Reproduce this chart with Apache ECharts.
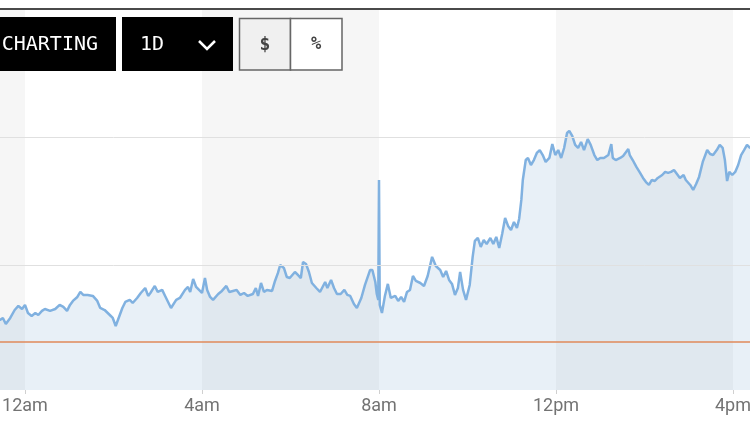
<!DOCTYPE html>
<html>
<head>
<meta charset="utf-8">
<script src="https://cdn.jsdelivr.net/npm/echarts@6/dist/echarts.min.js"></script>
<style>
html,body{margin:0;padding:0;background:#fff;overflow:hidden;width:750px;height:443px;position:relative;}
#chart{position:absolute;left:-152px;top:0;width:1062px;height:443px;}
</style>
</head>
<body>
<div id="chart"></div>
<script>
// minutes from 12am
const times = [
-37,-34,-30,-26,-20,-14,-9,-4,0,4,
9,14,18,23,27,34,41,47,52,57,
61,65,71,75,79,85,92,98,102,108,
115,119,123,126,132,136,142,146,152,157,
163,167,170,176,180,186,190,198,205,210,
217,221,224,228,232,240,244,247,251,255,
262,267,273,277,282,287,292,297,302,309,
313,316,320,324,328,335,339,343,346,351,
355,359,366,370,374,377,381,385,389,395,
400,407,410,415,419,423,428,433,437,441,
446,450,456,461,468,471,475,477,479,480,
481,484,488,492,496,502,506,510,514,518,
522,526,530,536,541,546,552,557,563,567,
571,575,579,583,587,590,594,598,600,603,
607,610,614,618,622,626,631,635,639,643,
647,651,655,659,663,667,670,673,675,679,
682,686,690,694,698,702,706,711,715,719,
723,727,731,735,738,742,746,750,754,758,
763,767,772,776,780,785,791,795,797,801,
807,811,818,820,824,829,834,838,842,846,
850,854,858,864,868,872,876,880,884,888,
893,896,902,906,910,914,919,925,929,933,
938,942,946,949,952,955,959,963,967,971,
975,979,983,987
];
const prices = [
105.86,105.70,105.86,105.39,105.86,106.48,106.80,106.56,106.88,106.25,
106.02,106.25,106.09,106.41,106.56,106.41,106.56,106.88,106.72,106.41,
106.88,107.19,107.50,107.89,107.66,107.66,107.58,107.19,106.64,106.48,
106.09,105.86,105.23,105.70,106.64,107.11,107.27,107.03,107.42,107.81,
108.20,107.58,107.81,108.36,107.89,108.05,107.58,106.64,107.27,107.42,
108.05,108.28,107.89,108.91,108.28,107.81,108.98,108.05,107.50,107.27,
107.73,107.97,108.36,107.89,107.97,108.05,107.66,107.81,107.58,107.73,
108.20,107.58,108.59,107.89,108.05,107.97,108.75,109.38,110.00,109.77,
109.06,108.98,109.45,109.22,108.98,110.23,110.08,109.45,108.59,108.20,
107.89,108.67,108.20,108.83,108.20,107.73,107.73,108.05,107.66,107.58,
106.95,106.64,107.42,108.44,109.61,109.61,108.67,107.73,107.27,116.64,
106.88,106.25,107.58,108.52,107.42,107.58,107.19,107.50,107.11,107.89,
108.05,109.14,108.75,108.59,108.36,109.14,110.63,109.92,109.61,109.06,
109.53,108.83,108.52,107.66,108.20,109.45,108.05,107.27,107.42,108.44,
110.63,111.88,112.11,111.41,111.95,111.64,112.11,111.64,112.19,111.33,
112.42,113.67,113.05,112.73,113.36,112.89,113.59,115.08,116.64,118.20,
118.36,117.81,118.20,118.75,118.98,118.59,118.05,118.36,119.45,118.59,
118.98,118.36,119.14,120.31,120.47,120.08,119.38,119.14,119.61,118.98,
119.84,119.38,118.59,118.20,118.36,118.36,118.59,119.45,118.36,118.20,
118.36,118.52,119.06,118.59,118.20,117.66,117.19,116.80,116.48,116.25,
116.64,116.56,116.80,117.03,117.27,117.19,117.27,117.42,117.11,116.80,
117.03,116.64,116.25,115.86,116.33,116.88,118.05,118.98,118.67,118.59,
118.98,119.38,119.14,118.20,116.56,117.27,117.03,117.27,117.81,118.59,
118.98,119.38,119.14,119.30
];
const previousClose = 104;
const gridValues = [110, 120];
const tickMinutes = [-240, 0, 240, 480, 720, 960, 1200];
const tickLabels = ['8pm', '12am', '4am', '8am', '12pm', '4pm', '8pm'];
const buttonLabels = ['CHARTING', '1D', '$', '%'];

const seriesData = times.map((t, i) => [t, prices[i]]);
const mono = '"DejaVu Sans Mono", "Liberation Mono", monospace';
const OX = 152; // page offset of the chart container

const chart = echarts.init(document.getElementById('chart'), null, {renderer: 'canvas'});
chart.setOption({
  animation: false,
  backgroundColor: '#fff',
  grid: {left: 0, right: 0, top: 9, bottom: 53, containLabel: false, outerBoundsMode: 'none'},
  xAxis: {
    type: 'value',
    min: -240, max: 1200, interval: 240,
    axisLine: {show: false},
    axisTick: {show: true, length: 4, lineStyle: {color: '#d0d0d0'}},
    axisLabel: {
      color: '#737373', fontSize: 18, fontFamily: 'Roboto', margin: 7,
      formatter: v => { const i = tickMinutes.indexOf(v); return i >= 0 ? tickLabels[i] : ''; }
    },
    splitLine: {show: false},
    splitArea: {show: true, areaStyle: {color: ['#f6f6f6', '#ffffff']}}
  },
  yAxis: {
    type: 'value',
    min: 100.23, max: 130,
    axisLine: {show: false}, axisTick: {show: false}, axisLabel: {show: false},
    splitLine: {show: false}
  },
  series: [
    {
      type: 'line', data: [], z: 1, silent: true,
      markLine: {
        silent: true, symbol: 'none', label: {show: false},
        lineStyle: {color: '#e0e0e0', width: 1, type: 'solid'},
        data: gridValues.map(v => ({yAxis: v}))
      }
    },
    {
      type: 'line', data: seriesData, showSymbol: false, z: 2,
      lineStyle: {color: '#80b1e0', width: 2.5},
      itemStyle: {color: '#80b1e0'},
      areaStyle: {origin: 'start', color: 'rgba(120,165,205,0.24)'},
      markLine: {
        silent: true, symbol: 'none', label: {show: false},
        lineStyle: {color: '#e08a5a', width: 1.5, type: 'solid'},
        data: [{yAxis: previousClose}]
      }
    }
  ],
  graphic: [
    {type: 'rect', z: 100, shape: {x: OX, y: 8, width: 750, height: 2}, style: {fill: '#4a4a4a'}},
    {type: 'rect', z: 100, shape: {x: OX - 10, y: 17, width: 126, height: 54}, style: {fill: '#000'}},
    {type: 'text', z: 101, style: {text: buttonLabels[0], x: OX + 98, y: 45, fill: '#fff', font: '20px ' + mono, align: 'right', verticalAlign: 'middle'}},
    {type: 'rect', z: 100, shape: {x: OX + 122, y: 17, width: 111, height: 54}, style: {fill: '#000'}},
    {type: 'text', z: 101, style: {text: buttonLabels[1], x: OX + 140, y: 45, fill: '#fff', font: '20px ' + mono, align: 'left', verticalAlign: 'middle'}},
    {type: 'polyline', z: 101, shape: {points: [[OX + 199, 41], [OX + 207, 49], [OX + 215, 41]]}, style: {stroke: '#fff', lineWidth: 2.5, fill: null}},
    {type: 'rect', z: 100, shape: {x: OX + 239.5, y: 18.5, width: 51, height: 51.5}, style: {fill: '#f0f0f0', stroke: '#666', lineWidth: 1.5}},
    {type: 'text', z: 101, style: {text: buttonLabels[2], x: OX + 265, y: 45, fill: '#444', font: 'bold 18px ' + mono, align: 'center', verticalAlign: 'middle'}},
    {type: 'rect', z: 100, shape: {x: OX + 290.5, y: 18.5, width: 51.5, height: 51.5}, style: {fill: '#fff', stroke: '#666', lineWidth: 1.5}},
    {type: 'text', z: 101, style: {text: buttonLabels[3], x: OX + 316, y: 45, fill: '#444', font: 'bold 17px ' + mono, align: 'center', verticalAlign: 'middle'}}
  ]
});
</script>
</body>
</html>
